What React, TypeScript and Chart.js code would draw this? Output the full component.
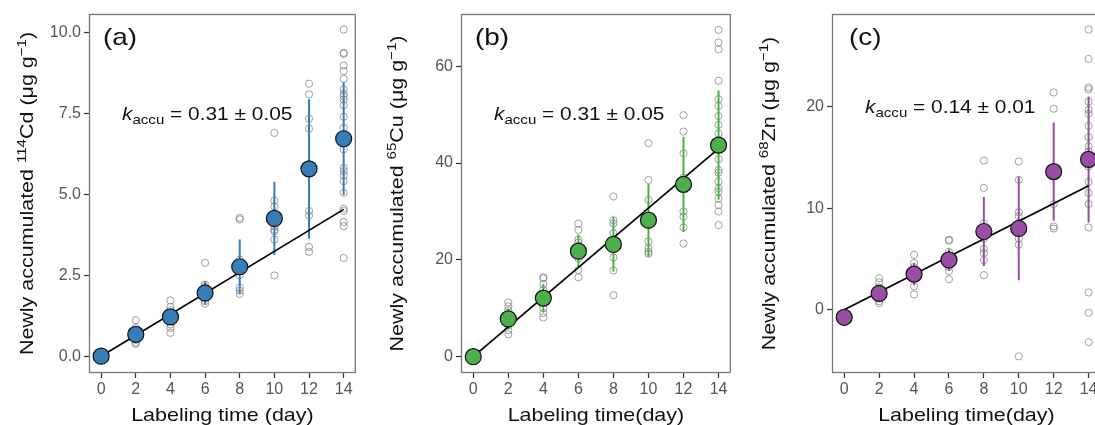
import React, { useEffect, useRef } from "react";
import { Chart, registerables } from "chart.js";

Chart.register(...registerables);

// ---------------- data ----------------
const days = [0, 2, 4, 6, 8, 10, 12, 14];
const xTicks = [0, 2, 4, 6, 8, 10, 12, 14];
const fitDays = [0, 14];

// (a) 114Cd
const meanA = [0, 0.67, 1.21, 1.95, 2.76, 4.25, 5.78, 6.71];
const sdA = [0, 0.15, 0.25, 0.36, 0.84, 1.13, 2.15, 1.74];
const fitA = [0.0, 4.53];
const yTicksA = [0, 2.5, 5, 7.5, 10];
const rawA = [
  [0, 0, 0, 0, 0, 0],
  [1.11, 0.88, 0.8, 0.72, 0.6, 0.5, 0.42, 0.38],
  [1.72, 1.52, 1.42, 1.3, 1.1, 0.98, 0.87, 0.72],
  [2.88, 2.21, 2.14, 2.05, 1.9, 1.8, 1.7, 1.62],
  [4.27, 4.22, 2.98, 2.8, 2.5, 2.12, 2.02, 1.92],
  [6.89, 4.8, 4.62, 4.0, 3.9, 3.85, 3.6, 2.49],
  [8.41, 8.08, 7.33, 7.02, 4.48, 4.34, 3.37, 3.22],
  [10.08, 9.36, 9.33, 8.97, 8.8, 8.56, 8.23, 8.1, 8.02, 7.92, 7.74, 7.39, 7.05, 6.38, 5.81, 5.71, 5.58, 5.4, 5.04, 4.55, 4.48, 4.14, 4.01, 3.03],
];

// (b) 65Cu
const meanB = [0, 7.8, 12.1, 21.8, 23.2, 28.2, 35.6, 43.7];
const sdB = [0, 2.2, 2.95, 3.45, 5.65, 7.55, 9.85, 11.3];
const fitB = [0.0, 43.0];
const yTicksB = [0, 20, 40, 60];
const rawB = [
  [0, 0, 0, 0],
  [11.2, 10.4, 9.6, 8.8, 7.2, 6.5, 5.5, 4.6],
  [16.4, 16.2, 15.0, 13.8, 11.5, 10.0, 9.0, 8.1],
  [27.5, 26.2, 24.2, 23.6, 21.0, 20.3, 17.9, 16.4],
  [33.1, 28.2, 27.5, 25.5, 22.4, 20.5, 17.8, 12.7],
  [44.1, 36.5, 32.4, 28.5, 23.8, 22.4, 21.7, 21.3],
  [49.9, 46.5, 42.0, 37.0, 30.0, 28.9, 26.7, 23.4],
  [67.5, 64.9, 63.5, 57.0, 53.2, 51.8, 49.7, 47.9, 46.1, 43.4, 40.8, 38.6, 38.0, 36.2, 34.8, 34.1, 32.7, 31.3, 30.0, 27.2],
];

// (c) 68Zn
const meanC = [-0.75, 1.6, 3.5, 4.9, 7.7, 8.0, 13.6, 14.8];
const sdC = [0.2, 0.6, 1.1, 1.05, 3.4, 5.1, 4.85, 6.2];
const fitC = [0.0, 12.2];
const yTicksC = [0, 10, 20];
const rawC = [
  [-0.6, -0.75, -1.0, -1.2],
  [3.1, 2.7, 2.2, 1.8, 1.4, 1.1, 0.85, 0.65],
  [5.4, 4.6, 4.2, 3.7, 3.2, 2.3, 1.5],
  [6.9, 6.8, 5.7, 4.7, 4.2, 3.8, 3.0],
  [14.7, 12.0, 8.5, 7.0, 6.0, 5.6, 4.9, 3.4],
  [14.6, 12.8, 9.6, 9.2, 7.0, 6.4, -4.6],
  [21.4, 19.8, 10.4, 8.2, 8.0],
  [27.6, 24.7, 21.9, 21.7, 20.5, 19.7, 19.3, 18.1, 17.0, 16.1, 15.6, 14.1, 12.6, 11.5, 10.4, 8.1, 1.7, -0.3, -3.2],
];

// ---------------- helpers ----------------
const FONT = '"Liberation Sans", Arial, Helvetica, sans-serif';
const SX = 1.16;

type Run = { t: string; size: number; italic?: boolean; dy?: number };

function fontOf(r: Run) {
  return `${r.italic ? "italic " : ""}${r.size}px ${FONT}`;
}

function drawRuns(
  ctx: CanvasRenderingContext2D,
  runs: Run[],
  x: number,
  y: number,
  align: "left" | "center",
  sx: number,
  rotate: boolean
) {
  ctx.save();
  ctx.translate(x, y);
  if (rotate) ctx.rotate(-Math.PI / 2);
  ctx.scale(sx, 1);
  ctx.textBaseline = "alphabetic";
  ctx.textAlign = "left";
  ctx.fillStyle = "#111";
  let total = 0;
  const widths = runs.map((r) => {
    ctx.font = fontOf(r);
    const w = ctx.measureText(r.t).width;
    total += w;
    return w;
  });
  let cx = align === "center" ? -total / 2 : 0;
  runs.forEach((r, i) => {
    ctx.font = fontOf(r);
    ctx.fillText(r.t, cx, r.dy || 0);
    cx += widths[i];
  });
  ctx.restore();
}

type Panel = {
  label: string;
  canvasLeft: number;
  canvasWidth: number;
  areaLeft: number;
  areaRight: number;
  yMin: number;
  yMax: number;
  yTicks: number[];
  decimals: number;
  color: string;
  mean: number[];
  sd: number[];
  fit: number[];
  raw: number[][];
  element: string;
  iso: string;
  xTitle: string;
  k: string;
  yTitleX: number;
  kX: number;
  kY: number;
  labelX: number;
};

const H = 425;
const AREA_TOP = 14;
const AREA_BOTTOM = 373;

const panels: Panel[] = [
  {
    label: "(a)", canvasLeft: 0, canvasWidth: 365, areaLeft: 89, areaRight: 360,
    yMin: -0.52, yMax: 10.56, yTicks: yTicksA, decimals: 1, color: "#377EB8",
    mean: meanA, sd: sdA, fit: fitA, raw: rawA, element: "Cd", iso: "114",
    xTitle: "Labeling time (day)", k: " = 0.31 \u00b1 0.05",
    yTitleX: 33, kX: 122, kY: 120, labelX: 103,
  },
  {
    label: "(b)", canvasLeft: 365, canvasWidth: 375, areaLeft: 96, areaRight: 367,
    yMin: -3.37, yMax: 70.8, yTicks: yTicksB, decimals: 0, color: "#4DAF4A",
    mean: meanB, sd: sdB, fit: fitB, raw: rawB, element: "Cu", iso: "65",
    xTitle: "Labeling time(day)", k: " = 0.31 \u00b1 0.05",
    yTitleX: 38, kX: 129, kY: 120, labelX: 110,
  },
  {
    label: "(c)", canvasLeft: 740, canvasWidth: 370, areaLeft: 92, areaRight: 362,
    yMin: -6.24, yMax: 29.13, yTicks: yTicksC, decimals: 0, color: "#984EA3",
    mean: meanC, sd: sdC, fit: fitC, raw: rawC, element: "Zn", iso: "68",
    xTitle: "Labeling time(day)", k: " = 0.14 \u00b1 0.01",
    yTitleX: 35, kX: 125, kY: 113, labelX: 109,
  },
];

function PanelChart({ p }: { p: Panel }) {
  const ref = useRef<HTMLCanvasElement | null>(null);

  useEffect(() => {
    if (!ref.current) return;

    const decor = {
      id: "decor",
      afterDraw(chart: any) {
        const ctx = chart.ctx as CanvasRenderingContext2D;
        const a = chart.chartArea;
        // panel border
        ctx.save();
        ctx.strokeStyle = "#777";
        ctx.lineWidth = 1.3;
        ctx.strokeRect(a.left + 0.5, a.top + 0.5, a.right - a.left - 1, a.bottom - a.top - 1);
        ctx.restore();
        // y title
        drawRuns(
          ctx,
          [
            { t: "Newly accumulated ", size: 18.5 },
            { t: p.iso, size: 13, dy: -7 },
            { t: p.element + " (\u03bcg g", size: 18.5 },
            { t: "\u22121", size: 13, dy: -7 },
            { t: ")", size: 18.5 },
          ],
          p.yTitleX,
          (a.top + a.bottom) / 2,
          "center",
          SX,
          true
        );
        // x title
        drawRuns(ctx, [{ t: p.xTitle, size: 18.5 }], (a.left + a.right) / 2, 420.5, "center", SX, false);
        // k annotation
        drawRuns(
          ctx,
          [
            { t: "k", size: 18, italic: true },
            { t: "accu", size: 13, dy: 4 },
            { t: p.k, size: 18 },
          ],
          p.kX,
          p.kY,
          "left",
          SX,
          false
        );
        // panel label
        drawRuns(ctx, [{ t: p.label, size: 24 }], p.labelX, 45, "left", SX, false);
      },
    };

    const meanPts = days.map((d, i) => ({ x: d, y: p.mean[i] }));
    const fitPts = fitDays.map((d, i) => ({ x: d, y: p.fit[i] }));
    const errPts: any[] = [];
    days.forEach((d, i) => {
      errPts.push({ x: d, y: p.mean[i] - p.sd[i] });
      errPts.push({ x: d, y: p.mean[i] + p.sd[i] });
      errPts.push({ x: d, y: null });
    });
    const rawPts: any[] = [];
    days.forEach((d, i) => p.raw[i].forEach((v) => rawPts.push({ x: d, y: v })));

    const tickFont = { family: FONT, size: 16 };

    const chart = new Chart(ref.current, {
      type: "scatter",
      data: {
        datasets: [
          {
            data: meanPts,
            pointRadius: 8,
            pointBackgroundColor: p.color,
            pointBorderColor: "#111",
            pointBorderWidth: 1.2,
            backgroundColor: p.color,
            borderColor: "#111",
            showLine: false,
            order: 0,
          },
          {
            data: fitPts,
            showLine: true,
            borderColor: "#000",
            borderWidth: 1.7,
            pointRadius: 0,
            order: 1,
          },
          {
            data: errPts,
            showLine: true,
            spanGaps: false,
            borderColor: p.color,
            borderWidth: 2,
            pointRadius: 0,
            order: 2,
          },
          {
            data: rawPts,
            pointRadius: 3.6,
            pointBackgroundColor: "rgba(0,0,0,0)",
            pointBorderColor: "rgba(130,130,130,0.75)",
            pointBorderWidth: 1,
            showLine: false,
            order: 3,
          },
        ] as any,
      },
      options: {
        animation: false,
        responsive: false,
        events: [],
        plugins: { legend: { display: false }, tooltip: { enabled: false } },
        layout: {
          padding: { left: 0, right: p.canvasWidth - p.areaRight, top: AREA_TOP, bottom: 0 },
        },
        scales: {
          x: {
            type: "linear",
            min: -0.7,
            max: 14.7,
            afterBuildTicks: (s: any) => {
              s.ticks = xTicks.map((v) => ({ value: v }));
            },
            afterFit: (s: any) => {
              s.height = H - AREA_BOTTOM;
            },
            ticks: {
              font: tickFont,
              color: "#555",
              padding: 2,
              maxRotation: 0,
              autoSkip: false,
              callback: (v: any) => String(v),
            },
            grid: { drawOnChartArea: false, drawTicks: true, tickLength: 5, tickColor: "#333", tickWidth: 1.2 },
            border: { display: false },
          },
          y: {
            type: "linear",
            min: p.yMin,
            max: p.yMax,
            afterBuildTicks: (s: any) => {
              s.ticks = p.yTicks.map((v) => ({ value: v }));
            },
            afterFit: (s: any) => {
              s.width = p.areaLeft;
            },
            ticks: {
              font: tickFont,
              color: "#555",
              padding: 3,
              autoSkip: false,
              callback: (v: any) => Number(v).toFixed(p.decimals),
            },
            grid: { drawOnChartArea: false, drawTicks: true, tickLength: 5, tickColor: "#333", tickWidth: 1.2 },
            border: { display: false },
          },
        },
      } as any,
      plugins: [decor],
    });
    return () => chart.destroy();
  }, [p]);

  return (
    <canvas
      ref={ref}
      width={p.canvasWidth}
      height={H}
      style={{ position: "absolute", left: p.canvasLeft, top: 0, width: p.canvasWidth, height: H }}
    />
  );
}

export default function App() {
  return (
    <div
      style={{
        position: "fixed",
        left: 0,
        top: 0,
        width: 1095,
        height: H,
        overflow: "hidden",
        background: "#fff",
      }}
    >
      {panels.map((p) => (
        <PanelChart key={p.label} p={p} />
      ))}
    </div>
  );
}
